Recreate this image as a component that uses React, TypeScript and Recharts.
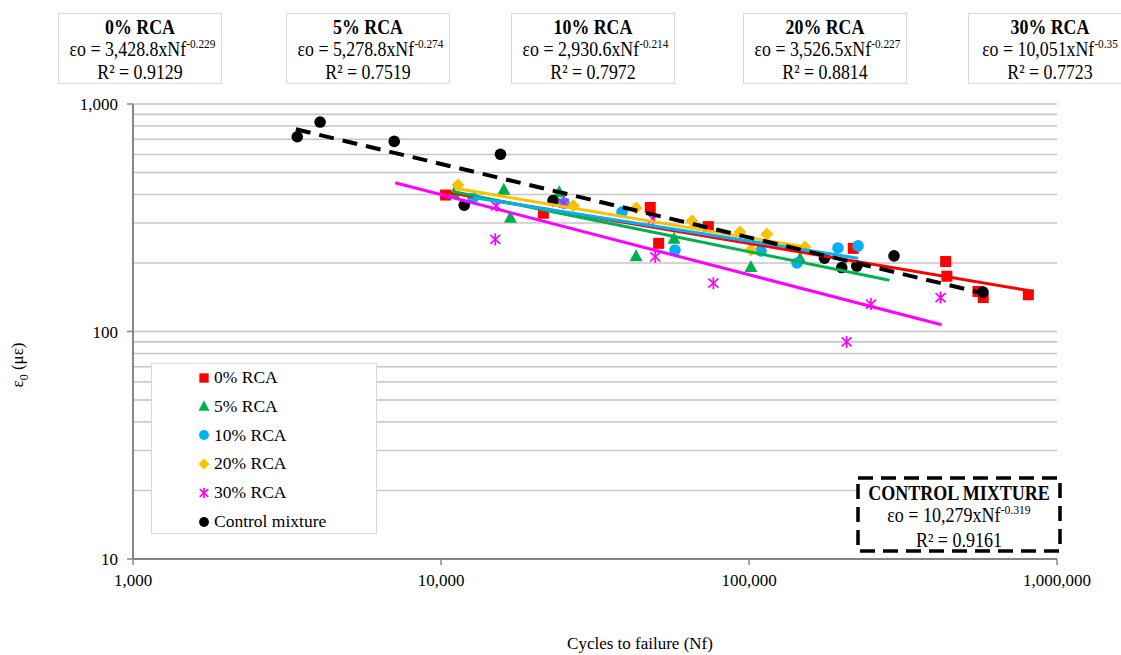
import { ScatterChart, Scatter, XAxis, YAxis, ReferenceLine } from 'recharts';

// cycles to failure (Nf) / strain (µε)
const rca0X = [10350, 21500, 47800, 50900, 73800, 218000, 435000, 439000, 554000, 576000, 807000];
const rca0Y = [398, 331, 351, 244, 289, 232, 203, 175, 150, 141, 145];

const rca5X = [11000, 16000, 16800, 24200, 43000, 57100, 101400, 146500];
const rca5Y = [405, 422, 318, 411, 215, 257, 193, 210];

const rca10X = [12700, 25100, 38700, 57500, 109400, 143200, 194500, 226000];
const rca10Y = [385, 367, 335, 228, 226, 200, 233, 238];

const rca20X = [11350, 26900, 43000, 65300, 93500, 101400, 114300, 152000];
const rca20Y = [440, 357, 349, 306, 274, 228, 268, 235];

const rca30X = [15000, 15100, 25000, 48800, 49600, 76600, 207500, 249000, 418700];
const rca30Y = [254, 357, 367, 312, 213, 163, 90, 132, 141];

const controlX = [3415, 4050, 7050, 11900, 15600, 23100, 175800, 200000, 223800, 295700, 575000];
const controlY = [718, 833, 685, 359, 601, 376, 210, 191, 194, 215, 149];

// trendline end points
const trend0X = [10300, 816000];
const trend0Y = [410, 151];
const trend5X = [10900, 285800];
const trend5Y = [413, 168];
const trend10X = [12700, 226000];
const trend10Y = [388, 210];
const trend20X = [11350, 152000];
const trend20Y = [424, 235];
const trend30X = [7100, 421900];
const trend30Y = [451, 107];
const trendCtrlX = [3380, 591000];
const trendCtrlY = [774, 146];

const xTicks = [1000, 10000, 100000, 1000000];
const yTicks = [10, 100, 1000];
const gridValues = [20, 30, 40, 50, 60, 70, 80, 90, 100, 200, 300, 400, 500, 600, 700, 800, 900, 1000];

const boxTitles = ['0% RCA', '5% RCA', '10% RCA', '20% RCA', '30% RCA'];
const boxCoefs = ['3,428.8', '5,278.8', '2,930.6', '3,526.5', '10,051'];
const boxExps = ['-0.229', '-0.274', '-0.214', '-0.227', '-0.35'];
const boxR2 = ['0.9129', '0.7519', '0.7972', '0.8814', '0.7723'];

const FONT = '"Liberation Serif", "Times New Roman", serif';

const zip = (xs: number[], ys: number[]) => xs.map((x, i) => ({ x, y: ys[i] }));

type Kind = 'square' | 'triangle' | 'circle' | 'diamond' | 'asterisk';

const series: { name: string; color: string; kind: Kind; data: any[]; trend: any[]; dashed?: boolean }[] = [
  { name: '0% RCA', color: '#ff0000', kind: 'square', data: zip(rca0X, rca0Y), trend: zip(trend0X, trend0Y) },
  { name: '5% RCA', color: '#00b050', kind: 'triangle', data: zip(rca5X, rca5Y), trend: zip(trend5X, trend5Y) },
  { name: '10% RCA', color: '#00b0f0', kind: 'circle', data: zip(rca10X, rca10Y), trend: zip(trend10X, trend10Y) },
  { name: '20% RCA', color: '#ffc000', kind: 'diamond', data: zip(rca20X, rca20Y), trend: zip(trend20X, trend20Y) },
  { name: '30% RCA', color: '#ff00ff', kind: 'asterisk', data: zip(rca30X, rca30Y), trend: zip(trend30X, trend30Y) },
  { name: 'Control mixture', color: '#000000', kind: 'circle', data: zip(controlX, controlY), trend: zip(trendCtrlX, trendCtrlY), dashed: true },
];

function Marker({ cx, cy, kind, color, s = 1 }: { cx: number; cy: number; kind: Kind; color: string; s?: number }) {
  if (cx == null || cy == null) return <g />;
  if (kind === 'square') return <rect x={cx - 5.5 * s} y={cy - 5.5 * s} width={11 * s} height={11 * s} fill={color} />;
  if (kind === 'triangle')
    return <polygon points={`${cx},${cy - 6.5 * s} ${cx + 6.5 * s},${cy + 5.5 * s} ${cx - 6.5 * s},${cy + 5.5 * s}`} fill={color} />;
  if (kind === 'diamond')
    return <polygon points={`${cx},${cy - 6.5 * s} ${cx + 6.5 * s},${cy} ${cx},${cy + 6.5 * s} ${cx - 6.5 * s},${cy}`} fill={color} />;
  if (kind === 'asterisk')
    return (
      <g stroke={color} strokeWidth={1.7}>
        <line x1={cx - 5 * s} y1={cy - 4.5 * s} x2={cx + 5 * s} y2={cy + 4.5 * s} />
        <line x1={cx - 5 * s} y1={cy + 4.5 * s} x2={cx + 5 * s} y2={cy - 4.5 * s} />
        <line x1={cx} y1={cy - 6 * s} x2={cx} y2={cy + 6 * s} />
      </g>
    );
  return <circle cx={cx} cy={cy} r={5.8 * s} fill={color} />;
}

const fmt = (v: number) => v.toLocaleString('en-US');

const supStyle: React.CSSProperties = { fontSize: 13, position: 'relative', top: -8 };

export default function App() {
  return (
    <div style={{ position: 'absolute', left: 0, top: 0, width: 1121, height: 655, fontFamily: FONT, color: '#000', background: '#fff', overflow: 'hidden' }}>
      <ScatterChart width={1121} height={655} margin={{ top: 104, right: 64, bottom: 0, left: 0 }}>
        <XAxis
          type="number"
          dataKey="x"
          scale="log"
          domain={[1000, 1000000]}
          ticks={xTicks}
          allowDataOverflow
          height={96}
          tickFormatter={fmt}
          tick={{ fill: '#000', fontSize: 17, fontFamily: FONT }}
          axisLine={{ stroke: '#868686', strokeWidth: 2 }}
          tickLine={{ stroke: '#868686', strokeWidth: 1.5 }}
          tickSize={6}
          tickMargin={9}
        />
        <YAxis
          type="number"
          dataKey="y"
          scale="log"
          domain={[10, 1000]}
          ticks={yTicks}
          allowDataOverflow
          width={133}
          tickFormatter={fmt}
          tick={{ fill: '#000', fontSize: 17, fontFamily: FONT }}
          axisLine={{ stroke: '#868686', strokeWidth: 2 }}
          tickLine={{ stroke: '#868686', strokeWidth: 1.5 }}
          tickSize={6}
          tickMargin={9}
        />
        {gridValues.map((v) => (
          <ReferenceLine key={v} y={v} stroke="#c6c6c6" strokeWidth={1.6} />
        ))}
        {series.map((s) => (
          <Scatter
            key={s.name}
            name={s.name}
            data={s.data}
            fill={s.color}
            isAnimationActive={false}
            shape={(p: any) => <Marker cx={p.cx} cy={p.cy} kind={s.kind} color={s.color} />}
          />
        ))}
        {series.map((s) => (
          <Scatter
            key={s.name + '-trend'}
            data={s.trend}
            fill="none"
            legendType="none"
            isAnimationActive={false}
            line={s.dashed ? { stroke: '#000', strokeWidth: 4, strokeDasharray: '15 9' } : { stroke: s.color, strokeWidth: 3 }}
            shape={() => <g />}
          />
        ))}
      </ScatterChart>

      {/* equation boxes along the top */}
      {boxTitles.map((t, i) => (
        <div
          key={t}
          style={{
            position: 'absolute',
            left: [58, 286, 511, 743, 968][i],
            top: 13,
            width: 164,
            height: 71,
            boxSizing: 'border-box',
            border: '1.5px solid #d9d9d9',
            background: '#fff',
          }}
        >
          <div
            style={{
              position: 'absolute',
              left: 0,
              right: 0,
              top: 3,
              textAlign: 'center',
              fontSize: 20.5,
              lineHeight: '21.5px',
              whiteSpace: 'nowrap',
              transform: 'scaleX(0.87)',
            }}
          >
            <div style={{ fontWeight: 'bold' }}>{t}</div>
            <div>
              εo = {boxCoefs[i]}xNf<span style={supStyle}>{boxExps[i]}</span>
            </div>
            <div>R² = {boxR2[i]}</div>
          </div>
        </div>
      ))}

      {/* legend */}
      <div
        style={{
          position: 'absolute',
          left: 151,
          top: 363,
          width: 226,
          height: 171,
          boxSizing: 'border-box',
          border: '1.5px solid #d9d9d9',
          background: '#fff',
        }}
      >
        {series.map((s, i) => (
          <div key={s.name} style={{ position: 'absolute', left: 45, top: 0.5 + i * 28.8, height: 26, display: 'flex', alignItems: 'center', fontSize: 17.5 }}>
            <svg width={14} height={14} style={{ marginRight: 3 }}>
              <Marker cx={7} cy={7} kind={s.kind} color={s.color} s={0.85} />
            </svg>
            <span>{s.name}</span>
          </div>
        ))}
      </div>

      {/* control mixture box */}
      <svg style={{ position: 'absolute', left: 856, top: 476 }} width={206} height={77}>
        <rect x={2} y={2} width={202} height={73} fill="#fff" stroke="#000" strokeWidth={3.5} strokeDasharray="15 8" />
      </svg>
      <div
        style={{
          position: 'absolute',
          left: 858,
          top: 482,
          width: 202,
          textAlign: 'center',
          fontSize: 20,
          lineHeight: '22px',
          whiteSpace: 'nowrap',
          transform: 'scaleX(0.9)',
        }}
      >
        <div style={{ fontWeight: 'bold' }}>CONTROL MIXTURE</div>
        <div>
          εo = 10,279xNf<span style={supStyle}>-0.319</span>
        </div>
        <div>R² = 0.9161</div>
      </div>

      {/* axis titles */}
      <div
        style={{
          position: 'absolute',
          left: 20,
          top: 365,
          transform: 'translate(-50%, -50%) rotate(-90deg)',
          fontSize: 17,
          whiteSpace: 'nowrap',
        }}
      >
        ε<sub style={{ fontSize: 12 }}>0</sub> (με)
      </div>
      <div style={{ position: 'absolute', left: 640, top: 644, transform: 'translate(-50%, -50%)', fontSize: 17, whiteSpace: 'nowrap' }}>
        Cycles to failure (Nf)
      </div>
    </div>
  );
}
